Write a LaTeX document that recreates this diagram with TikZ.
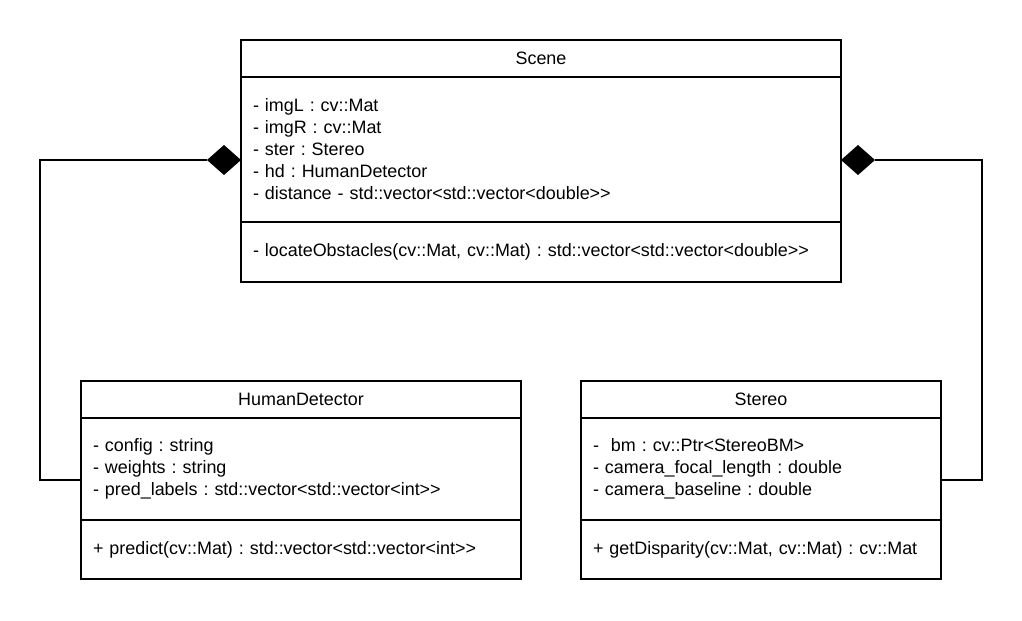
\documentclass[tikz,border=0pt]{standalone}
\usepackage{fontspec}
\setmainfont{Liberation Sans}
\frenchspacing
\usetikzlibrary{shapes,positioning}

\begin{document}
\begin{tikzpicture}
\tikzset{head/.style = {draw, line width=1.1pt, outer sep=0pt, inner sep=0pt, minimum height=0.74cm, font=\fontsize{10.2}{12.5}\selectfont}}
\tikzset{part/.style = {draw, line width=1.1pt, outer sep=0pt, inner xsep=0.24cm, inner ysep=0pt, align=left, font=\fontsize{10.2}{12.5}\selectfont}}
\tikzset{comp/.style = {shape=diamond, fill=black, inner sep=0pt, outer sep=0pt, minimum width=0.68cm, minimum height=0.6cm}}
\tikzset{link/.style = {line width=1.1pt}}
\useasboundingbox (0,0) rectangle (20.44,-12.4);

% Scene
\node[head, minimum width=12cm] (scene) at (10.82,-1.17) {Scene};
\node[part, text width=11.52cm, minimum height=2.9cm, below=0pt of scene] (sceneA) {- imgL : cv::Mat\\- imgR : cv::Mat\\- ster : Stereo\\- hd : HumanDetector\\- distance - std::vector<std::vector<double>{}>};
\node[part, text width=11.52cm, minimum height=1.2cm, below=0pt of sceneA] (sceneM) {- locateObstacles(cv::Mat, cv::Mat) : std::vector<std::vector<double>{}>};

% HumanDetector
\node[head, minimum width=8.8cm] (hd) at (6.02,-7.99) {HumanDetector};
\node[part, text width=8.32cm, minimum height=2.04cm, below=0pt of hd] (hdA) {- config : string\\- weights : string\\- pred\_labels : std::vector<std::vector<int>{}>};
\node[part, text width=8.32cm, minimum height=1.18cm, below=0pt of hdA] (hdM) {+ predict(cv::Mat) : std::vector<std::vector<int>{}>};

% Stereo
\node[head, minimum width=7.2cm] (ster) at (15.22,-7.99) {Stereo};
\node[part, text width=6.72cm, minimum height=2.04cm, below=0pt of ster] (sterA) {-\ \ bm : cv::Ptr<StereoBM>\\- camera\_focal\_length : double\\- camera\_baseline : double};
\node[part, text width=6.72cm, minimum height=1.18cm, below=0pt of sterA] (sterM) {+ getDisparity(cv::Mat, cv::Mat) : cv::Mat};

% composition
\node[comp, anchor=east] (dl) at ([yshift=-0.21cm]sceneA.west) {};
\node[comp, anchor=west] (dr) at ([yshift=-0.21cm]sceneA.east) {};
\coordinate (lbend) at (0.8,-9.6);
\coordinate (rbend) at (19.64,-9.6);

\draw[link] (dl.west) -| (lbend) -- (lbend -| hdA.west);
\draw[link] (dr.east) -| (rbend) -- (rbend -| sterA.east);
\end{tikzpicture}
\end{document}
